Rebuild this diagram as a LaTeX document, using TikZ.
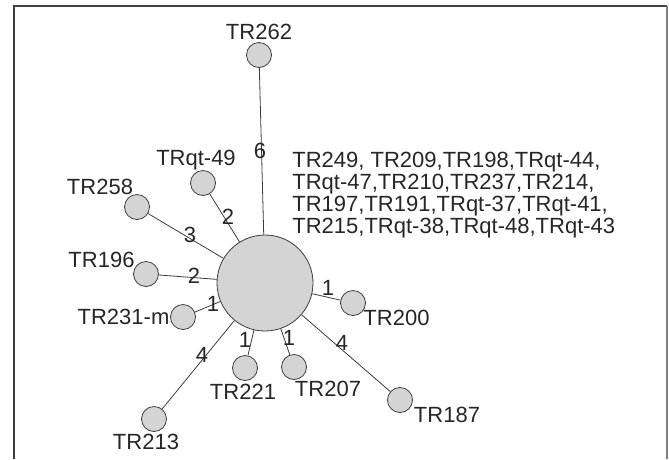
\documentclass[tikz,border=0pt]{standalone}
\usepackage{fontspec}
\setmainfont{Liberation Sans}
\usepackage{tikz}
\usetikzlibrary{positioning, calc}
\definecolor{hapfill}{HTML}{D4D4D4}
\definecolor{hapline}{HTML}{3C3C3C}

\begin{document}
\begin{tikzpicture}[x=10pt, y=-10pt, line width=0.8pt,
    hap/.style={circle, draw=hapline, fill=hapfill, inner sep=0pt, minimum size=25pt},
    tag/.style={inner sep=0pt, text height=15.75pt, text depth=0pt, text=black!85,
        font=\fontsize{22}{21.7}\selectfont}]

    \useasboundingbox (0,0) rectangle (66.9,45.9);

    % ==================== FRAME ====================
    \draw[black!75, line width=1.5pt] (1.4,45.9) -- (1.4,0.6) -- (66.7,0.6);
    \draw[black!50, line width=1.5pt] (66.7,0.6) -- (66.7,45.9);

    % ==================== HAPLOTYPE CIRCLES ====================
    % Central haplotype
    \node [hap, minimum size=96pt] (hub) at (26.5, 28.3) {};

    % Satellite haplotypes
    \node [hap] (tr262) at (25.9, 5.5) {};
    \node [hap] (trqt49) at (20.3, 18.3) {};
    \node [hap] (tr258) at (13.7, 20.7) {};
    \node [hap] (tr196) at (14.6, 27.4) {};
    \node [hap] (tr231m) at (18.3, 31.7) {};
    \node [hap] (tr213) at (15.4, 41.9) {};
    \node [hap] (tr221) at (24.5, 36.8) {};
    \node [hap] (tr207) at (29.4, 36.7) {};
    \node [hap] (tr187) at (40.0, 40.0) {};
    \node [hap] (tr200) at (35.3, 30.3) {};

    % ==================== CONNECTIONS ====================
    \draw[hapline] (hub) -- (tr262);
    \draw[hapline] (hub) -- (trqt49);
    \draw[hapline] (hub) -- (tr258);
    \draw[hapline] (hub) -- (tr196);
    \draw[hapline] (hub) -- (tr231m);
    \draw[hapline] (hub) -- (tr213);
    \draw[hapline] (hub) -- (tr221);
    \draw[hapline] (hub) -- (tr207);
    \draw[hapline] (hub) -- (tr187);
    \draw[hapline] (hub) -- (tr200);

    % ==================== MUTATION COUNTS ====================
    \node [tag] (m262) at (26.0, 15.1) {6};
    \node [tag] (mqt49) at (22.8, 21.7) {2};
    \node [tag] (m258) at (19.0, 23.5) {3};
    \node [tag] (m196) at (19.4, 27.6) {2};
    \node [tag] (m231m) at (21.3, 30.4) {1};
    \node [tag] (m213) at (20.2, 35.5) {4};
    \node [tag] (m221) at (24.5, 34.0) {1};
    \node [tag] (m207) at (28.9, 33.8) {1};
    \node [tag] (m187) at (34.2, 34.3) {4};
    \node [tag] (m200) at (32.8, 28.8) {1};

    % ==================== HAPLOTYPE NAMES ====================
    \node [tag] (lab262) at (25.9, 3.2) {TR262};
    \node [tag] (labqt49) at (19.6, 15.8) {TRqt-49};
    \node [tag] (lab258) at (10.0, 18.7) {TR258};
    \node [tag] (lab196) at (10.15, 26.0) {TR196};
    \node [tag] (lab231m) at (12.35, 31.7) {TR231-m};
    \node [tag] (lab213) at (14.6, 44.2) {TR213};
    \node [tag] (lab221) at (24.3, 39.2) {TR221};
    \node [tag] (lab207) at (32.8, 38.9) {TR207};
    \node [tag] (lab187) at (44.7, 41.5) {TR187};
    \node [tag] (lab200) at (39.65, 31.8) {TR200};

    % Haplotypes sharing the central circle (base = last line)
    \node [tag, text height=, align=left, anchor=base west] (labhub) at (29.2, 23.3)
        {TR249, TR209,TR198,TRqt-44,\\
         TRqt-47,TR210,TR237,TR214,\\
         TR197,TR191,TRqt-37,TRqt-41,\\
         TR215,TRqt-38,TRqt-48,TRqt-43};

\end{tikzpicture}
\end{document}
